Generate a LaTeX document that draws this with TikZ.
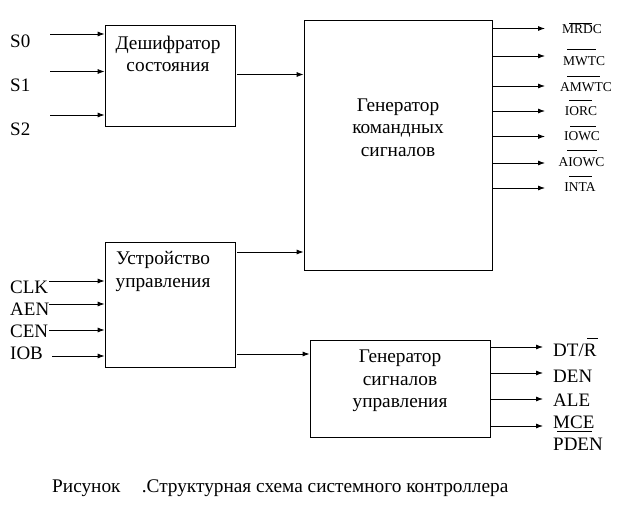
\documentclass[tikz,border=0pt]{standalone}
\usepackage{fontspec}
\setmainfont{Liberation Serif}
\usetikzlibrary{arrows.meta}
\begin{document}
\begin{tikzpicture}[x=1pt,y=-1pt,
  box/.style={draw,line width=0.8pt,inner sep=0pt},
  arr/.style={line width=0.8pt,-{Latex[length=7pt,width=5pt]}},
  bigtxt/.style={font=\fontsize{19.3}{22.5}\selectfont,inner sep=0pt,align=center},
  lbl/.style={font=\fontsize{19}{22}\selectfont,inner sep=0pt},
  sml/.style={font=\fontsize{13.5}{15}\selectfont,inner sep=0pt},
  ovl/.style={line width=0.7pt}]
\useasboundingbox (0,0) rectangle (632,532);
% boxes
\node[box,minimum width=130pt,minimum height=101pt] (b1) at (170,75.5) {};
\node[box,minimum width=188pt,minimum height=250pt] (b2) at (398,145) {};
\node[box,minimum width=130pt,minimum height=125pt] (b3) at (170,304.5) {};
\node[box,minimum width=180pt,minimum height=97pt] (b4) at (400,388.5) {};
% box texts
\node[bigtxt] (t1) at (168,54) {Дешифратор\\состояния};
\node[bigtxt] (t2) at (398,127.5) {Генератор\\командных\\сигналов};
\node[bigtxt] (t3) at (163,271.5) {Устройство\\управления};
\node[bigtxt] (t4) at (400,381) {Генератор\\сигналов\\управления};
% inputs S
\node[lbl,anchor=west] (ls0) at (10,41) {S0};
\node[lbl,anchor=west] (ls1) at (10,85) {S1};
\node[lbl,anchor=west] (ls2) at (10,129) {S2};
\coordinate (s0) at (50,34);
\coordinate (s1) at (50,71.5);
\coordinate (s2) at (50,115);
\foreach \c in {s0,s1,s2} \draw[arr] (\c) -- (\c -| b1.west);
% inputs CLK...
\node[lbl,anchor=west] (lclk) at (10,287) {CLK};
\node[lbl,anchor=west] (laen) at (10,309) {AEN};
\node[lbl,anchor=west] (lcen) at (10,331) {CEN};
\node[lbl,anchor=west] (liob) at (10,353) {IOB};
\coordinate (c1) at (49,281);
\coordinate (c2) at (49,304);
\coordinate (c3) at (49,330);
\coordinate (c4) at (52,356);
\foreach \c in {c1,c2,c3,c4} \draw[arr] (\c) -- (\c -| b3.west);
% internal arrows
\coordinate (k1) at (237,74.5);
\draw[arr] (k1) -- (k1 -| b2.west);
\coordinate (k2) at (237,252);
\draw[arr] (k2) -- (k2 -| b2.west);
\coordinate (k3) at (237,354);
\draw[arr] (k3) -- (k3 -| b4.west);
% top outputs
\foreach \y/\n in {28.5/o1,56/o2,86/o3,111/o4,136.5/o5,163/o6,188/o7} {
  \coordinate (\n) at (545,\y);
  \draw[arr] (\n -| b2.east) -- (\n);
}
\node[sml] (m1) at (582,29) {MRDC};
\node[sml] (m2) at (584,61) {MWTC};
\node[sml] (m3) at (586,87) {AMWTC};
\node[sml] (m4) at (581,111.5) {IORC};
\node[sml] (m5) at (582,136.5) {IOWC};
\node[sml] (m6) at (581.5,162) {AIOWC};
\node[sml] (m7) at (580,187) {INTA};
\draw[ovl] (569,23.3) -- (592,23.3);
\draw[ovl] (567,49.3) -- (596,49.3);
\draw[ovl] (567,76) -- (600,76);
\draw[ovl] (569,100.7) -- (592,100.7);
\draw[ovl] (570,126.7) -- (596,126.7);
\draw[ovl] (567,150) -- (597,150);
\draw[ovl] (569,176.7) -- (592,176.7);
% bottom outputs
\foreach \y/\n in {347/p1,373/p2,399/p3,426/p4} {
  \coordinate (\n) at (543,\y);
  \draw[arr] (\n -| b4.east) -- (\n);
}
\node[lbl,anchor=west] (q1) at (553,350) {DT/R};
\node[lbl,anchor=west] (q2) at (553,376) {DEN};
\node[lbl,anchor=west] (q3) at (553,400) {ALE};
\node[lbl,anchor=west] (q4) at (553,422) {MCE};
\node[lbl,anchor=west] (q5) at (553,444) {PDEN};
\draw[ovl] (587,338) -- (598,338);
\draw[ovl] (557,431.7) -- (592,431.7);
% caption
\node[font=\fontsize{19.3}{22}\selectfont,inner sep=0pt,anchor=west] (cap) at (52,488) {Рисунок\hspace{1.1em}.Структурная схема системного контроллера};
\end{tikzpicture}
\end{document}
